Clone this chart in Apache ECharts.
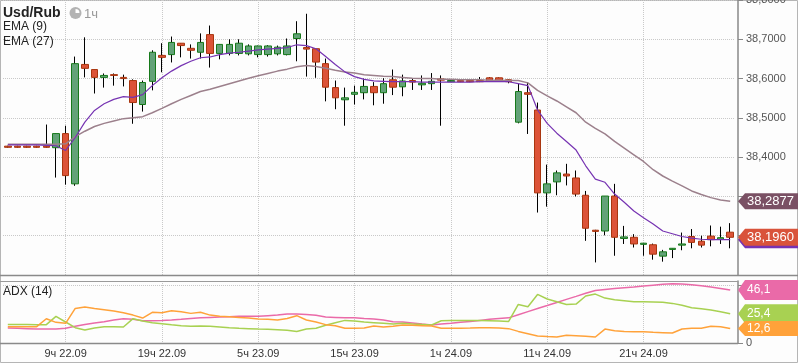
<!DOCTYPE html>
<html><head><meta charset="utf-8">
<script src="https://cdn.jsdelivr.net/npm/echarts@6/dist/echarts.min.js"></script>
<style>html,body{margin:0;padding:0;background:#fdfdfd}#c{width:798px;height:363px}</style>
</head><body><div id="c"></div>
<script>
const categories = [
'3ч 22.09','4ч 22.09','5ч 22.09','6ч 22.09','7ч 22.09','8ч 22.09','9ч 22.09','10ч 22.09','11ч 22.09','12ч 22.09',
'13ч 22.09','14ч 22.09','15ч 22.09','16ч 22.09','17ч 22.09','18ч 22.09','19ч 22.09','20ч 22.09','21ч 22.09','22ч 22.09',
'23ч 22.09','0ч 23.09','1ч 23.09','2ч 23.09','3ч 23.09','4ч 23.09','5ч 23.09','6ч 23.09','7ч 23.09','8ч 23.09',
'9ч 23.09','10ч 23.09','11ч 23.09','12ч 23.09','13ч 23.09','14ч 23.09','15ч 23.09','16ч 23.09','17ч 23.09','18ч 23.09',
'19ч 23.09','20ч 23.09','21ч 23.09','22ч 23.09','23ч 23.09','0ч 24.09','1ч 24.09','2ч 24.09','3ч 24.09','4ч 24.09',
'5ч 24.09','6ч 24.09','7ч 24.09','8ч 24.09','9ч 24.09','10ч 24.09','11ч 24.09','12ч 24.09','13ч 24.09','14ч 24.09',
'15ч 24.09','16ч 24.09','17ч 24.09','18ч 24.09','19ч 24.09','20ч 24.09','21ч 24.09','22ч 24.09','23ч 24.09','0ч 25.09',
'1ч 25.09','2ч 25.09','3ч 25.09','4ч 25.09','5ч 25.09','6ч 25.09'];

const openPrices = [
38.428,38.428,38.428,38.428,38.428,38.424,38.460,38.332,38.636,38.623,
38.603,38.610,38.603,38.595,38.534,38.593,38.659,38.661,38.690,38.677,
38.667,38.712,38.664,38.664,38.664,38.663,38.661,38.661,38.663,38.661,
38.702,38.679,38.676,38.638,38.577,38.546,38.560,38.564,38.580,38.564,
38.597,38.579,38.595,38.584,38.587,38.599,38.592,38.595,38.595,38.595,
38.602,38.602,38.597,38.489,38.564,38.520,38.309,38.337,38.357,38.347,
38.303,38.214,38.212,38.301,38.193,38.196,38.178,38.177,38.148,38.165,
38.176,38.198,38.186,38.199,38.191,38.209];
const closePrices = [
38.425,38.425,38.425,38.425,38.425,38.460,38.353,38.638,38.626,38.603,
38.608,38.608,38.600,38.539,38.590,38.667,38.654,38.692,38.684,38.672,
38.692,38.664,38.687,38.687,38.690,38.683,38.683,38.683,38.680,38.683,
38.714,38.675,38.642,38.578,38.551,38.551,38.565,38.580,38.564,38.587,
38.578,38.594,38.591,38.588,38.593,38.596,38.595,38.592,38.592,38.592,
38.593,38.595,38.592,38.567,38.560,38.309,38.332,38.360,38.352,38.306,
38.219,38.211,38.301,38.196,38.197,38.179,38.181,38.153,38.159,38.168,
38.179,38.183,38.176,38.190,38.195,38.196];
const lowPrices = [
38.424,38.424,38.424,38.424,38.424,38.348,38.330,38.327,38.603,38.562,
38.577,38.582,38.580,38.485,38.516,38.570,38.616,38.641,38.654,38.651,
38.651,38.628,38.649,38.659,38.659,38.659,38.654,38.656,38.659,38.659,
38.644,38.605,38.602,38.542,38.522,38.480,38.534,38.547,38.532,38.536,
38.558,38.555,38.571,38.571,38.571,38.480,38.591,38.591,38.591,38.591,
38.592,38.592,38.588,38.486,38.459,38.259,38.274,38.303,38.328,38.300,
38.187,38.132,38.201,38.149,38.179,38.170,38.149,38.139,38.134,38.143,
38.163,38.168,38.170,38.173,38.179,38.168];
const highPrices = [
38.429,38.429,38.429,38.429,38.483,38.460,38.480,38.656,38.705,38.623,
38.613,38.613,38.610,38.598,38.595,38.672,38.690,38.707,38.690,38.687,
38.715,38.735,38.687,38.700,38.700,38.687,38.684,38.685,38.684,38.702,
38.746,38.765,38.676,38.651,38.595,38.577,38.582,38.600,38.591,38.601,
38.623,38.610,38.601,38.608,38.614,38.608,38.596,38.596,38.596,38.604,
38.604,38.603,38.598,38.587,38.591,38.539,38.381,38.366,38.383,38.366,
38.314,38.215,38.301,38.332,38.225,38.204,38.181,38.180,38.164,38.168,
38.208,38.217,38.200,38.226,38.223,38.232];

const ema9 = [
38.431,38.431,38.431,38.431,38.430,38.429,38.417,38.450,38.489,38.519,
38.536,38.547,38.554,38.552,38.559,38.582,38.602,38.619,38.633,38.644,
38.653,38.655,38.661,38.665,38.667,38.670,38.673,38.675,38.677,38.679,
38.686,38.684,38.676,38.656,38.636,38.617,38.605,38.598,38.594,38.593,
38.592,38.592,38.592,38.591,38.591,38.591,38.591,38.591,38.591,38.592,
38.592,38.592,38.592,38.587,38.582,38.520,38.486,38.461,38.440,38.418,
38.378,38.344,38.336,38.306,38.285,38.263,38.246,38.230,38.212,38.205,
38.198,38.194,38.191,38.190,38.190,38.190];
const ema27 = [
38.433,38.433,38.433,38.433,38.433,38.433,38.434,38.452,38.466,38.478,
38.486,38.492,38.498,38.500,38.503,38.513,38.524,38.536,38.547,38.557,
38.567,38.573,38.580,38.587,38.594,38.601,38.607,38.613,38.619,38.624,
38.630,38.633,38.631,38.626,38.621,38.617,38.614,38.610,38.608,38.606,
38.605,38.603,38.601,38.600,38.600,38.598,38.598,38.597,38.597,38.597,
38.596,38.596,38.595,38.595,38.589,38.570,38.556,38.543,38.528,38.513,
38.489,38.473,38.459,38.440,38.423,38.406,38.389,38.368,38.352,38.339,
38.327,38.314,38.305,38.297,38.291,38.2877];

const adx = [
13.0,12.8,12.5,12.2,12.2,12.2,12.8,14.5,16.2,17.4,
18.6,20.0,21.2,20.6,19.4,19.4,19.6,20.0,20.6,21.4,
22.0,22.3,22.6,22.9,23.2,23.2,23.3,23.8,24.3,25.2,
25.2,24.9,24.1,22.6,22.3,22.0,22.0,21.4,20.9,20.0,
18.6,18.3,17.4,16.5,15.7,16.5,17.2,18.0,18.8,19.7,
20.6,21.4,21.9,24.6,27.3,30.0,32.6,35.3,38.0,40.6,
43.3,45.8,46.7,47.4,48.1,48.8,49.6,50.4,51.2,51.7,
51.4,50.8,49.9,48.8,47.5,46.1];
const minusDI = [
16.2,16.2,16.2,16.0,16.0,23.2,18.3,13.3,11.3,13.0,
14.2,14.2,13.9,21.2,19.1,17.7,16.8,15.9,15.1,14.5,
14.8,14.5,13.9,13.3,12.8,12.5,12.2,12.0,11.6,11.0,
10.1,12.2,12.8,15.4,17.7,19.7,19.1,18.3,17.7,17.1,
16.5,17.1,16.5,16.2,15.7,19.4,19.7,19.7,19.7,19.6,
19.4,19.2,18.8,33.6,31.6,42.3,38.3,35.9,33.6,33.9,
40.9,42.6,39.1,37.7,36.8,35.9,35.9,35.7,35.4,34.5,
32.8,30.7,29.9,28.7,27.2,25.4];
const plusDI = [
14.2,14.2,14.2,14.2,21.1,18.0,17.1,30.1,31.3,30.1,
29.0,27.8,26.4,24.3,21.7,26.7,26.4,28.1,27.2,25.8,
26.7,24.3,23.2,22.9,22.3,21.7,20.9,20.6,20.0,21.4,
23.8,20.0,18.3,16.0,15.1,12.8,12.8,13.0,14.8,13.9,
14.5,15.7,15.4,15.1,14.8,12.8,12.8,12.8,13.0,13.3,
13.3,13.0,12.5,10.1,8.1,6.1,5.6,5.2,6.7,6.4,
5.9,5.2,12.1,10.7,10.1,9.9,9.9,9.3,9.0,8.7,
12.2,12.8,12.8,14.5,14.2,12.6];

// price-axis labels that sit under the value badges in the reference
const hiddenPriceLabels = [38.2, 38.3];

const FONT = "'Liberation Sans', Arial, sans-serif";
const C = {
  upFill:'#63a278', upBorder:'#16791a', downFill:'#dc5338', downBorder:'#a9360f',
  ema9:'#7633b2', ema27:'#9c808c', ema27Badge:'#7a5064', priceBadge:'#d9533b',
  adx:'#ea6aa8', minusDI:'#a8d152', plusDI:'#ffa23a', grid:'#c9c9c9', axis:'#888'
};
const isGridTick = (i) => i % 10 === 6;
const dotted = {color:C.grid, width:1, type:[1,1]};

const wicks = openPrices.map((o,i)=>[o, closePrices[i], lowPrices[i], highPrices[i]]);
const bodies = openPrices.map((o,i)=>{const c=closePrices[i]; return [o, c, Math.min(o,c), Math.max(o,c)];});

const chart = echarts.init(document.getElementById('c'));
chart.setOption({
  animation:false,
  backgroundColor:'#fdfdfd',
  grid:[
    {left:3,right:63,top:0,height:275,containLabel:false,outerBoundsMode:'none'},
    {left:3,right:63,top:281,height:62,containLabel:false,outerBoundsMode:'none'}
  ],
  xAxis:[
    {type:'category',gridIndex:0,data:categories,boundaryGap:true,
     axisLine:{show:false},axisTick:{show:false},axisLabel:{show:false},
     splitLine:{show:true,interval:isGridTick,alignWithLabel:true,lineStyle:dotted}},
    {type:'category',gridIndex:1,data:categories,boundaryGap:true,
     axisLine:{show:false},axisTick:{show:false},
     axisLabel:{interval:isGridTick,color:'#333',fontSize:11,margin:5,fontFamily:FONT},
     splitLine:{show:true,interval:isGridTick,alignWithLabel:true,lineStyle:dotted}}
  ],
  yAxis:[
    {type:'value',gridIndex:0,position:'right',offset:3,min:38.1,max:38.8,interval:0.1,
     axisLine:{show:true,lineStyle:{color:C.axis,width:1.5}},
     axisTick:{show:true,length:5,lineStyle:{color:C.axis}},
     axisLabel:{color:'#555',fontSize:11,margin:8,fontFamily:FONT,showMinLabel:false,
       formatter:v=> hiddenPriceLabels.some(h=>Math.abs(h-v)<1e-6) ? '' : v.toFixed(4).replace('.',',')},
     splitLine:{show:true,lineStyle:dotted}},
    {type:'value',gridIndex:1,position:'right',offset:3,min:0,max:54,interval:50,
     axisLine:{show:true,lineStyle:{color:C.axis,width:1.5}},
     axisTick:{show:true,length:5,lineStyle:{color:C.axis}},
     axisLabel:{color:'#555',fontSize:11,margin:8,fontFamily:FONT,formatter:v=>String(v)},
     splitLine:{show:true,lineStyle:dotted}}
  ],
  series:[
    {name:'wick',type:'candlestick',xAxisIndex:0,yAxisIndex:0,data:wicks,barWidth:1,z:3,
     itemStyle:{color:'#000',color0:'#000',borderColor:'#000',borderColor0:'#000',borderWidth:1}},
    {name:'Usd/Rub',type:'candlestick',xAxisIndex:0,yAxisIndex:0,data:bodies,barWidth:7,z:4,
     itemStyle:{color:C.upFill,color0:C.downFill,borderColor:C.upBorder,borderColor0:C.downBorder,borderWidth:1}},
    {name:'EMA (27)',type:'line',xAxisIndex:0,yAxisIndex:0,data:ema27,symbol:'none',z:5,
     lineStyle:{color:C.ema27,width:1.5}},
    {name:'EMA (9)',type:'line',xAxisIndex:0,yAxisIndex:0,data:ema9,symbol:'none',z:6,
     lineStyle:{color:C.ema9,width:1.2}},
    {name:'ADX',type:'line',xAxisIndex:1,yAxisIndex:1,data:adx,symbol:'none',z:5,lineStyle:{color:C.adx,width:1.5}},
    {name:'-DI',type:'line',xAxisIndex:1,yAxisIndex:1,data:minusDI,symbol:'none',z:5,lineStyle:{color:C.minusDI,width:1.5}},
    {name:'+DI',type:'line',xAxisIndex:1,yAxisIndex:1,data:plusDI,symbol:'none',z:5,lineStyle:{color:C.plusDI,width:1.5}}
  ]
});

function badge(y, h, color, text, fontSize, z){
  return [
    {type:'polygon',z:z,silent:true,shape:{points:[[738,y],[745,y-h/2],[798,y-h/2],[798,y+h/2],[745,y+h/2]]},style:{fill:color}},
    {type:'text',z:z+1,silent:true,x:747,y:y,style:{text:text,fill:'#fff',font:fontSize+'px '+FONT,
      align:'left',verticalAlign:'middle',textAlign:'left',textVerticalAlign:'middle'}}
  ];
}
const last = categories.length - 1;
const py = (v) => chart.convertToPixel({yAxisIndex:0}, v);
const ay = (v) => chart.convertToPixel({yAxisIndex:1}, v);
const fmt4 = v => v.toFixed(4).replace('.',',');
const fmt1 = v => v.toFixed(1).replace('.',',');

const line = (x1,y1,x2,y2,color,w,z) => ({type:'line',z:z||50,silent:true,shape:{x1,y1,x2,y2},style:{stroke:color,lineWidth:w}});
const txt = (x,y,t,font,fill) => ({type:'text',z:60,silent:true,x:x,y:y,style:{text:t,font:font,fill:fill,align:'left',verticalAlign:'middle',textAlign:'left',textVerticalAlign:'middle'}});

const graphics = [
  {type:'rect',z:-10,silent:true,shape:{x:0.5,y:0.5,width:797,height:362},style:{fill:'none',stroke:'#b5b5b5',lineWidth:1}},
  line(0,275.5,798,275.5,'#8a8a8a',1.5),
  line(0,281.5,738,281.5,'#9a9a9a',1),
  line(0,343.5,738,343.5,'#8a8a8a',1.5),
  txt(3,13,'Usd/Rub','bold 14px '+FONT,'#222'),
  {type:'circle',z:60,silent:true,shape:{cx:75.5,cy:13,r:6},style:{fill:'#b3b3b3'}},
  {type:'sector',z:61,silent:true,shape:{cx:75.5,cy:13,r:4,r0:0,startAngle:-Math.PI/2,endAngle:0},style:{fill:'#fff'}},
  txt(84,14,'1ч','13px '+FONT,'#9a9a9a'),
  txt(3,27,'EMA (9)','12px '+FONT,'#222'),
  txt(3,42,'EMA (27)','12px '+FONT,'#222'),
  txt(3,292,'ADX (14)','12px '+FONT,'#222')
]
.concat(badge(py(ema9[last]),17,C.ema9,fmt4(ema9[last]),13,70))
.concat(badge(py(ema27[last]),16,C.ema27Badge,fmt4(ema27[last]),13,72))
.concat(badge(py(closePrices[last]),17,C.priceBadge,fmt4(closePrices[last]),13,74))
.concat(badge(ay(adx[last]),20,C.adx,fmt1(adx[last]),12,70))
.concat(badge(ay(minusDI[last]),19,C.minusDI,fmt1(minusDI[last]),12,72))
.concat(badge(ay(plusDI[last]),15,C.plusDI,fmt1(plusDI[last]),12,74));

chart.setOption({graphic:graphics});
</script></body></html>
